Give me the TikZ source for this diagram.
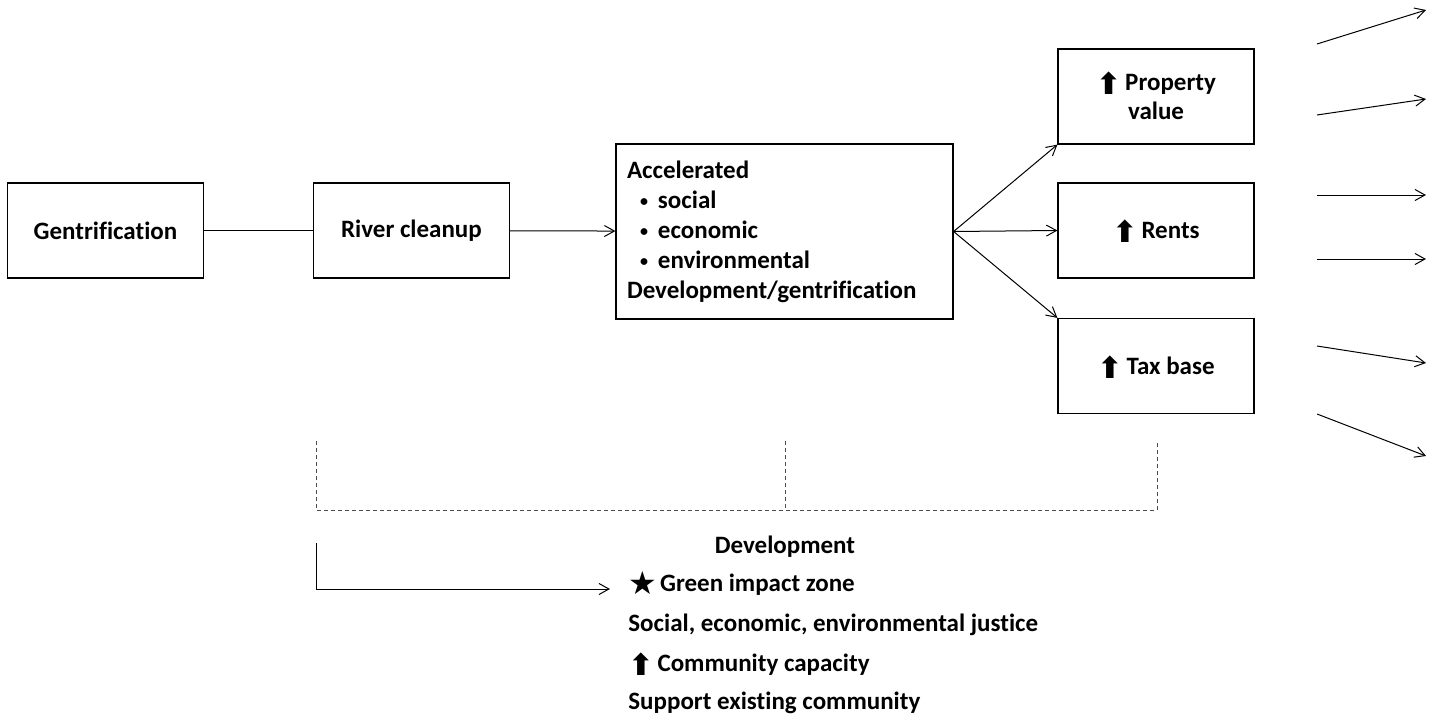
\documentclass[tikz,border=0pt]{standalone}
\usepackage{fontspec}
\setmainfont{Carlito}[Ligatures=NoCommon]
\newfontfamily\symfont{DejaVu Sans}
\usetikzlibrary{positioning, arrows.meta}
\newcommand{\uparr}{\smash{\raisebox{-2pt}{\symfont\fontsize{15}{15}\selectfont\char"2B06}}}
\newcommand{\starsym}{\smash{\raisebox{-1.5pt}{\symfont\fontsize{16}{16}\selectfont\char"2605}}}
\newcommand{\bul}{\hspace*{6.5pt}\raisebox{1pt}{\fontsize{8}{8}\selectfont\textbullet}\hspace{5pt}}

\begin{document}
\begin{tikzpicture}[x=0.5pt, y=-0.5pt,
    font=\bfseries\fontsize{12.5}{14.5}\selectfont,
    box/.style={draw, line width=0.6pt, minimum width=98pt, minimum height=47.5pt, align=center, inner sep=0pt},
    arr/.style={line width=0.5pt, -{Straight Barb[length=5pt, width=5.5pt]}},
    guide/.style={line width=0.5pt, dash pattern=on 2pt off 1.5pt, black!70}]
  \useasboundingbox (0,0) rectangle (1435,717);

  % main chain
  \node[box] (gentr) at (105.5,230.5) {Gentrification};
  \node[box] (cleanup) at (411.5,230.5) {River cleanup};
  \node[box, minimum width=168.5pt, minimum height=87.5pt, text width=157.5pt, inner xsep=5.5pt, align=left,
        font=\bfseries\fontsize{12.5}{15}\selectfont] (accel) at (784.5,231.5)
    {Accelerated\\
     \bul social\\
     \bul economic\\
     \bul environmental\\
     Development/gentrification};

  \node[box] (propval) at (1156,96.5) {\uparr\hspace{2pt}Property\\value};
  \node[box] (rents) at (1156,230.5) {\uparr\hspace{2pt}Rents};
  \node[box] (taxbase) at (1156,366) {\uparr\hspace{2pt}Tax base};

  \draw[line width=0.5pt] (gentr) -- (cleanup);
  \draw[arr] (cleanup) -- (accel);
  \draw[arr] (accel.east) -- (propval.south west);
  \draw[arr] (accel.east) -- (rents.west);
  \draw[arr] (accel.east) -- (taxbase.north west);

  % loose arrows on the right
  \foreach \ys/\ye [count=\i] in {44/10, 115/99, 195/195, 259/259, 346/363, 414/456}{
    \coordinate (out\i s) at (1317,\ys);
    \coordinate (out\i e) at (1426,\ye);
    \draw[arr] (out\i s) -- (out\i e);
  }

  % dashed bracket
  \coordinate (brl) at (316,441);
  \coordinate (brm) at (785,441);
  \coordinate (brr) at (1157,441);
  \coordinate (brbase) at (785,510);
  \draw[guide] (brl) |- (brbase) -| (brr);
  \draw[guide] (brm) -- (brbase);

  % development list
  \node (dev) at (785,547) {Development};
  \node[anchor=west, inner sep=0pt] (green) at (628,585) {\starsym\hspace{1.5pt}Green impact zone};
  \node[anchor=west, inner sep=0pt] (justice) at (628,625) {Social, economic, environmental justice};
  \node[anchor=west, inner sep=0pt] (capacity) at (628,665) {\uparr\hspace{2pt}Community capacity};
  \node[anchor=west, inner sep=0pt] (support) at (628,703) {Support existing community};

  \coordinate (lstart) at (316,543);
  \draw[arr] (lstart) |- ([shift={(-9pt,-2pt)}]green.west);
\end{tikzpicture}
\end{document}
